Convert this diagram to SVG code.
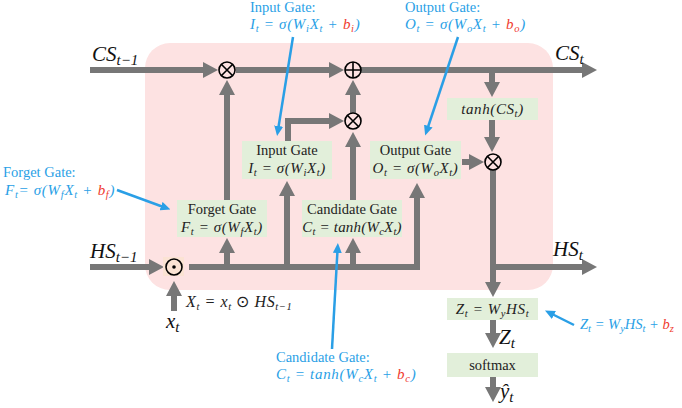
<svg xmlns="http://www.w3.org/2000/svg" width="682" height="408" viewBox="0 0 682 408">
<defs>
<marker id="ah" viewBox="0 0 15 16" refX="1" refY="8" markerWidth="15" markerHeight="16" markerUnits="userSpaceOnUse" orient="auto">
<path d="M0,0 L15,8 L0,16 Z" fill="#777"/>
</marker>
<marker id="bh" viewBox="0 0 10 9" refX="1" refY="4.5" markerWidth="10" markerHeight="9" markerUnits="userSpaceOnUse" orient="auto">
<path d="M0,0 L10,4.5 L0,9 Z" fill="#2a9fe6"/>
</marker>
<style>
.flow{fill:none;stroke:#777;stroke-width:6;marker-end:url(#ah);stroke-linejoin:miter}
.blue{fill:none;stroke:#2a9fe6;stroke-width:2.5;marker-end:url(#bh)}
.box{fill:#e2efda}
.op{fill:none;stroke:#000;stroke-width:1.6}
.t{font-family:"Liberation Serif",serif;font-size:14.5px;fill:#222;text-anchor:middle}
.m{font-family:"Liberation Serif",serif;font-style:italic;font-size:15px;letter-spacing:0.6px;fill:#222;text-anchor:middle}
.big{font-family:"Liberation Serif",serif;font-style:italic;font-size:21px;fill:#111}
.bt{font-family:"Liberation Serif",serif;font-size:14.5px;fill:#2a9fe6}
.bm{font-family:"Liberation Serif",serif;font-style:italic;font-size:15px;letter-spacing:0.7px;fill:#2a9fe6}
.red{fill:#f03a2e}
.s{font-size:10.5px}
</style>
</defs>
<rect x="145" y="43" width="408" height="247" rx="25" fill="#fde2e2"/>

<g id="connectors">
<path class="flow" d="M90,70 H204"/>
<path class="flow" d="M236,70 H330"/>
<path class="flow" d="M361,70 H583"/>
<path class="flow" d="M492,73 V83"/>
<path class="flow" d="M492,120 V138"/>
<path class="flow" d="M462,162 H470"/>
<path class="flow" d="M493,170 V283"/>
<path class="flow" d="M493,267 H583"/>
<path class="flow" d="M493,320 V334"/>
<path class="flow" d="M493,377 V388"/>
<path class="flow" d="M90,267 H150"/>
<path class="flow" d="M174,311 V295"/>
<path class="flow" d="M189,267 H417 V197"/>
<path class="flow" d="M227,267 V252"/>
<path class="flow" d="M287,267 V195"/>
<path class="flow" d="M353,267 V252"/>
<path class="flow" d="M227,200 V94"/>
<path class="flow" d="M288,141 V121 H330"/>
<path class="flow" d="M353,200 V146"/>
<path class="flow" d="M353,113 V94"/>
<path class="blue" d="M293,37 L278.5,127"/>
<path class="blue" d="M458,37 L428,127"/>
<path class="blue" d="M117,190 L162,206.5"/>
<path class="blue" d="M332,349 L337.4,252"/>
<path class="blue" d="M574,325 L553,314.5"/>
</g>

<g id="mult1"><circle class="op" cx="227" cy="70" r="8" fill="#fff"/><path class="op" d="M221.3,64.3 L232.7,75.7 M232.7,64.3 L221.3,75.7"/></g>
<g id="add1"><circle class="op" cx="353" cy="70" r="8" fill="#fff"/><path class="op" d="M345,70 H361 M353,62 V78"/></g>
<g id="mult2"><circle class="op" cx="353" cy="121" r="8" fill="#fff"/><path class="op" d="M347.3,115.3 L358.7,126.7 M358.7,115.3 L347.3,126.7"/></g>
<g id="mult3"><circle class="op" cx="493" cy="162" r="8" fill="#fff"/><path class="op" d="M487.3,156.3 L498.7,167.7 M498.7,156.3 L487.3,167.7"/></g>
<g id="hadamard"><rect x="163" y="257" width="21" height="19" fill="#fbe3d3"/><circle class="op" cx="174" cy="267" r="8" fill="none"/><circle cx="174" cy="267" r="1.8" fill="#000"/></g>

<g id="forget">
<rect class="box" x="177" y="200" width="90" height="37"/>
<text class="t" x="222" y="214">Forget Gate</text>
<text class="m" x="222" y="232">F<tspan class="s" dy="3">t</tspan><tspan dy="-3"> = σ(W</tspan><tspan class="s" dy="3">f</tspan><tspan dy="-3">X</tspan><tspan class="s" dy="3">t</tspan><tspan dy="-3">)</tspan></text>
</g>
<g id="input">
<rect class="box" x="242" y="141" width="90" height="38"/>
<text class="t" x="287" y="155">Input Gate</text>
<text class="m" x="287" y="173">I<tspan class="s" dy="3">t</tspan><tspan dy="-3"> = σ(W</tspan><tspan class="s" dy="3">i</tspan><tspan dy="-3">X</tspan><tspan class="s" dy="3">t</tspan><tspan dy="-3">)</tspan></text>
</g>
<g id="candidate">
<rect class="box" x="302" y="200" width="100" height="37"/>
<text class="t" x="352" y="214">Candidate Gate</text>
<text class="m" x="352" y="232" style="letter-spacing:0.2px">C<tspan class="s" dy="3">t</tspan><tspan dy="-3"> = tanh(W</tspan><tspan class="s" dy="3">c</tspan><tspan dy="-3">X</tspan><tspan class="s" dy="3">t</tspan><tspan dy="-3">)</tspan></text>
</g>
<g id="output">
<rect class="box" x="370" y="141" width="91" height="38"/>
<text class="t" x="415.5" y="155">Output Gate</text>
<text class="m" x="415.5" y="173">O<tspan class="s" dy="3">t</tspan><tspan dy="-3"> = σ(W</tspan><tspan class="s" dy="3">o</tspan><tspan dy="-3">X</tspan><tspan class="s" dy="3">t</tspan><tspan dy="-3">)</tspan></text>
</g>
<g id="tanh">
<rect class="box" x="447" y="98" width="91" height="22"/>
<text class="m" x="492.5" y="114">tanh(CS<tspan class="s" dy="3">t</tspan><tspan dy="-3">)</tspan></text>
</g>
<g id="zbox">
<rect class="box" x="447" y="298" width="91" height="22"/>
<text class="m" x="492.5" y="314">Z<tspan class="s" dy="3">t</tspan><tspan dy="-3"> = W</tspan><tspan class="s" dy="3">y</tspan><tspan dy="-3">HS</tspan><tspan class="s" dy="3">t</tspan></text>
</g>
<g id="softmax">
<rect class="box" x="447" y="353" width="91" height="24"/>
<text class="t" x="492.5" y="370">softmax</text>
</g>

<g id="labels">
<text class="big" x="92" y="61">CS<tspan font-size="15" dy="4">t−1</tspan></text>
<text class="big" x="555" y="60">CS<tspan font-size="15" dy="4">t</tspan></text>
<text class="big" x="90" y="258">HS<tspan font-size="15" dy="4">t−1</tspan></text>
<text class="big" x="553" y="256">HS<tspan font-size="15" dy="4">t</tspan></text>
<text class="big" x="166" y="328">x<tspan font-size="15" dy="4">t</tspan></text>
<text class="m" x="186" y="307" style="text-anchor:start;font-size:16px">X<tspan class="s" dy="3">t</tspan><tspan dy="-3"> = x</tspan><tspan class="s" dy="3">t</tspan><tspan dy="-3" font-style="normal"> ⊙ </tspan><tspan>HS</tspan><tspan class="s" dy="3">t−1</tspan></text>
<text class="big" x="499" y="344">Z<tspan font-size="15" dy="4">t</tspan></text>
<text class="big" x="500" y="398">ŷ<tspan font-size="15" dy="4">t</tspan></text>
</g>

<g id="annotations">
<text class="bt" x="250" y="12">Input Gate:</text>
<text class="bm" x="250" y="29">I<tspan class="s" dy="3">t</tspan><tspan dy="-3"> = σ(W</tspan><tspan class="s" dy="3">i</tspan><tspan dy="-3">X</tspan><tspan class="s" dy="3">t</tspan><tspan dy="-3"> + </tspan><tspan class="red">b</tspan><tspan class="s red" dy="3">i</tspan><tspan dy="-3">)</tspan></text>
<text class="bt" x="405" y="12">Output Gate:</text>
<text class="bm" x="405" y="29">O<tspan class="s" dy="3">t</tspan><tspan dy="-3"> = σ(W</tspan><tspan class="s" dy="3">o</tspan><tspan dy="-3">X</tspan><tspan class="s" dy="3">t</tspan><tspan dy="-3"> + </tspan><tspan class="red">b</tspan><tspan class="s red" dy="3">o</tspan><tspan dy="-3">)</tspan></text>
<text class="bt" x="3" y="177">Forget Gate:</text>
<text class="bm" x="5" y="195">F<tspan class="s" dy="3">t</tspan><tspan dy="-3">= σ(W</tspan><tspan class="s" dy="3">f</tspan><tspan dy="-3">X</tspan><tspan class="s" dy="3">t</tspan><tspan dy="-3"> + </tspan><tspan class="red">b</tspan><tspan class="s red" dy="3">f</tspan><tspan dy="-3">)</tspan></text>
<text class="bt" x="276" y="362">Candidate Gate:</text>
<text class="bm" x="276" y="379">C<tspan class="s" dy="3">t</tspan><tspan dy="-3"> = tanh(W</tspan><tspan class="s" dy="3">c</tspan><tspan dy="-3">X</tspan><tspan class="s" dy="3">t</tspan><tspan dy="-3"> + </tspan><tspan class="red">b</tspan><tspan class="s red" dy="3">c</tspan><tspan dy="-3">)</tspan></text>
<text class="bm" x="580" y="329" style="letter-spacing:0;font-size:14.5px">Z<tspan class="s" dy="3">t</tspan><tspan dy="-3"> = W</tspan><tspan class="s" dy="3">y</tspan><tspan dy="-3">HS</tspan><tspan class="s" dy="3">t</tspan><tspan dy="-3"> + </tspan><tspan class="red">b</tspan><tspan class="s red" dy="3">z</tspan></text>
</g>
</svg>
